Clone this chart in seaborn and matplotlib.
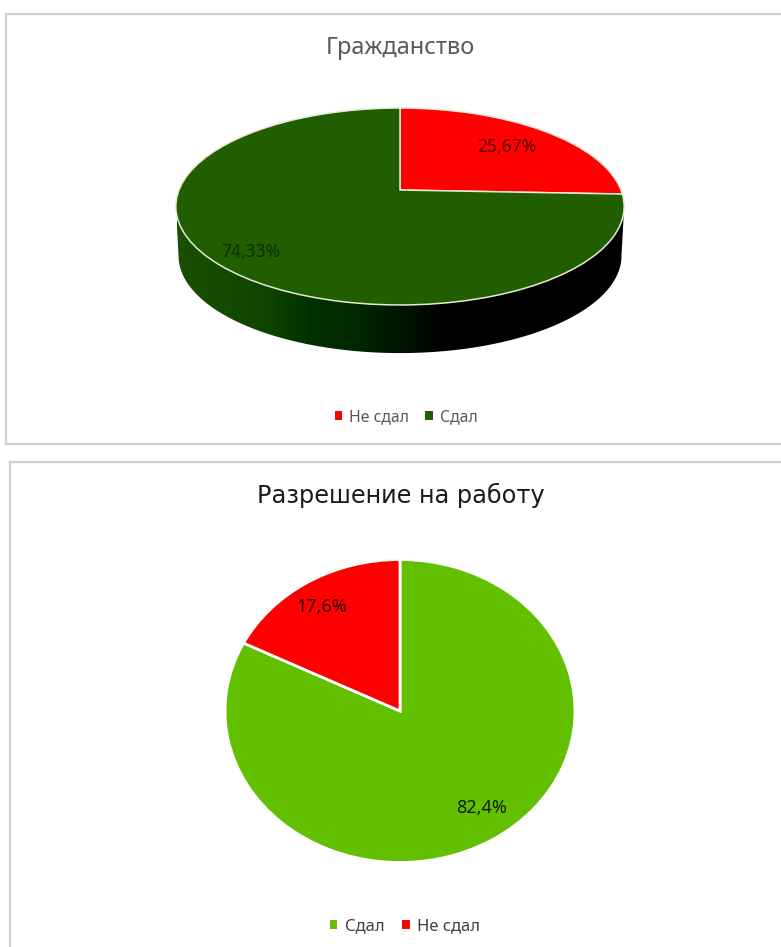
import numpy as np
import matplotlib
matplotlib.use("Agg")
import matplotlib.pyplot as plt
from matplotlib.patches import Patch
from matplotlib.path import Path
from matplotlib.patches import PathPatch
from matplotlib.transforms import Transform, Affine2D
import seaborn as sns

title_top = "Гражданство"
labels_top = ["Не сдал", "Сдал"]
values_top = [25.67, 74.33]
colors_top = ["#ff0000", "#215e00"]

title_bottom = "Разрешение на работу"
labels_bottom = ["Сдал", "Не сдал"]
values_bottom = [82.4, 17.6]
colors_bottom = ["#63c000", "#ff0000"]

sns.set_theme(style="white")
plt.rcParams["font.family"] = ["Noto Sans", "DejaVu Sans"]

W, H = 781, 947
fig = plt.figure(figsize=(W / 100, H / 100), dpi=100, facecolor="white")


def panel(left, top, right, bottom):
    ax = fig.add_axes([left / W, 1 - bottom / H, (right - left) / W, (bottom - top) / H])
    ax.set_xlim(left, right)
    ax.set_ylim(H - bottom, H - top)
    ax.set_xticks([])
    ax.set_yticks([])
    for s in ax.spines.values():
        s.set_color("#d0d0d0")
        s.set_linewidth(1.6)
    return ax


class Perspective(Transform):
    """Tilted-disc projection of the unit circle, in figure pixels."""
    input_dims = output_dims = 2

    def __init__(self, cx, cy, a, b, c, scale=1.0, shift=0.0):
        super().__init__()
        self.p = (cx, cy, a, b, c, scale, shift)

    def transform_non_affine(self, xy):
        cx, cy, a, b, c, s, d = self.p
        xy = np.asarray(xy)
        w = 1 + c * xy[:, 1]
        return np.column_stack([cx + s * a * xy[:, 0] / w,
                                H - cy - d + s * b * xy[:, 1] / w])

    def transform_path_non_affine(self, path):
        return Path(self.transform_non_affine(path.vertices), path.codes)


def legend(ax, labels, colors, x, y, color, size):
    handles = [Patch(facecolor=c, edgecolor="none") for c in colors]
    ax.legend(handles, labels, ncol=2, loc="center",
              bbox_to_anchor=(x, H - y), bbox_transform=ax.transData,
              frameon=False, fontsize=size, handlelength=0.45, handleheight=0.45,
              handletextpad=0.45, columnspacing=1.05, labelcolor=color)


# ---------- top chart ----------
ax1 = panel(6, 14, 790, 444)
persp = Perspective(400, 190, 221, 95.7, 0.1675)
wedges, _ = ax1.pie(values_top, colors=colors_top, startangle=90, counterclock=False,
                    radius=1, frame=True,
                    wedgeprops=dict(edgecolor="#e4ead8", linewidth=1.1))
ax1.set_aspect("auto")
ax1.set_xlim(6, 790)
ax1.set_ylim(H - 444, H - 14)
ax1.set_xticks([])
ax1.set_yticks([])
for w in wedges:
    w.set_transform(persp + ax1.transData)
    w.set_zorder(3)

# side wall of the disc
c = 0.1675
t0 = np.arcsin(-c)
lower = np.linspace(np.pi - t0, 2 * np.pi + t0, 200)
upper = np.linspace(t0, np.pi - t0, 200)
wall_perspective = Perspective(400, 190, 221, 95.7, c, scale=0.988, shift=49.5)
pts_lo = wall_perspective.transform_non_affine(np.column_stack([np.cos(lower), np.sin(lower)]))
pts_up = persp.transform_non_affine(np.column_stack([np.cos(upper), np.sin(upper)]))
verts = np.vstack([pts_lo, pts_up, pts_lo[:1]])
clip = PathPatch(Path(verts, closed=True), transform=ax1.transData, facecolor="none", edgecolor="none")
ax1.add_patch(clip)
cmap = sns.blend_palette(["#1b5000", "#154a00", "#0f4400", "#003000", "#002800", "#001500",
                          "#000000", "#000000", "#000000", "#000000", "#000000"],
                         256, as_cmap=True)
grad = ax1.imshow(np.linspace(0, 1, 256)[None, :], extent=(177, 625, H - 360, H - 200),
                  cmap=cmap, aspect="auto", zorder=2, interpolation="bilinear")
grad.set_clip_path(clip)
ax1.set_xlim(6, 790)
ax1.set_ylim(H - 444, H - 14)

ax1.text(400, H - 48, title_top, ha="center", va="center", fontsize=17, color="#595959")
ax1.text(507, H - 147, f"{values_top[0]:.2f}".replace(".", ",") + "%", ha="center", va="center",
         fontsize=12.5, color="#5c0000", zorder=5)
ax1.text(251, H - 252, f"{values_top[1]:.2f}".replace(".", ",") + "%", ha="center", va="center",
         fontsize=12.5, color="#0d2c00", zorder=5)
legend(ax1, labels_top, colors_top, 406, 417, "#595959", 11.4)

# ---------- bottom chart ----------
ax2 = panel(10, 462, 790, 960)
wedges2, _ = ax2.pie(values_bottom, colors=colors_bottom, startangle=90, counterclock=False,
                     radius=1, frame=True,
                     wedgeprops=dict(edgecolor="white", linewidth=2))
ax2.set_aspect("auto")
ax2.set_xlim(10, 790)
ax2.set_ylim(H - 960, H - 462)
ax2.set_xticks([])
ax2.set_yticks([])
disc = Affine2D().scale(175, 151.5).translate(400, H - 711)
for w in wedges2:
    w.set_transform(disc + ax2.transData)

ax2.text(401, H - 495, title_bottom, ha="center", va="center", fontsize=17.3, color="#1a1a1a",
         family="DejaVu Sans")
ax2.text(322, H - 607, f"{values_bottom[1]:.1f}".replace(".", ",") + "%", ha="center", va="center",
         fontsize=13, color="#300000", zorder=5)
ax2.text(482, H - 808, f"{values_bottom[0]:.1f}".replace(".", ",") + "%", ha="center", va="center",
         fontsize=13, color="#102000", zorder=5)
legend(ax2, labels_bottom, colors_bottom, 405, 926, "#404040", 12)

fig.savefig("out.png", dpi=100, facecolor="white")
